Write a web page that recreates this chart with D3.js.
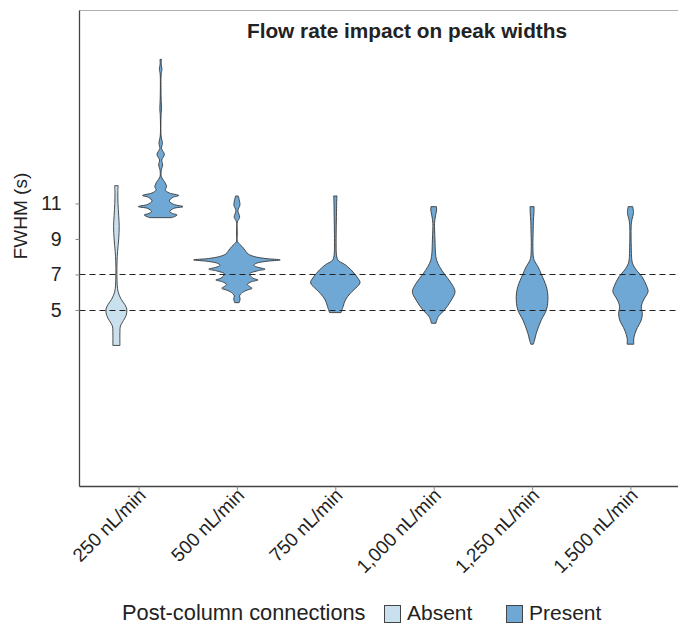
<!DOCTYPE html>
<html>
<head>
<meta charset="utf-8">
<script src="https://cdn.jsdelivr.net/npm/d3@7"></script>
<style>
  body { margin: 0; background: #fff; }
  text { font-family: "Liberation Sans", Arial, Helvetica, sans-serif; fill: #222; }
</style>
</head>
<body>
<svg id="chart" width="678" height="624"></svg>
<script>
// Flow rates on the x axis
const categories = ["250 nL/min", "500 nL/min", "750 nL/min", "1,000 nL/min", "1,250 nL/min", "1,500 nL/min"];
// Post-column connection groups
const groups = ["Absent", "Present"];
const groupColors = ["#c9e1ef", "#6fa8d4"];
// Y axis ticks and reference lines (FWHM, s)
const yTicks = [5, 7, 9, 11];
const referenceLines = [5, 7];

// Violin profiles: [FWHM (s), relative density]
const absent250 = [
  [12.0, .040], [11.6, .033], [11.0, .037], [10.3, .053], [9.7, .065], [9.0, .053],
  [8.3, .028], [7.7, .014], [7.0, .012], [6.4, .019], [6.0, .042], [5.6, .110],
  [5.3, .195], [5.05, .240], [4.7, .226], [4.4, .163], [4.1, .093], [3.8, .082], [3.0, .082]
];
const present250 = [
  [19.12, .016], [18.85, .012], [18.56, .030], [18.3, .012], [17.0, .010], [16.27, .019],
  [16.0, .010], [14.8, .010], [14.39, .040], [14.1, .019], [13.77, .086], [13.45, .026],
  [13.17, .047], [12.9, .016], [12.5, .016], [12.23, .086], [12.10, .116], [11.93, .135],
  [11.76, .105], [11.59, .200], [11.45, .419], [11.34, .280], [11.14, .200], [10.95, .300],
  [10.82, .516], [10.72, .300], [10.54, .210], [10.44, .270], [10.35, .380], [10.2, .256]
];
const present500 = [
  [11.42, .030], [10.92, .070], [10.6, .023], [10.22, .063], [9.97, .012], [8.85, .012],
  [8.72, .058], [8.58, .116], [8.44, .163], [8.30, .205], [8.15, .260], [8.01, .400],
  [7.90, .650], [7.82, 1.0], [7.73, .650], [7.62, .440], [7.51, .390], [7.40, .490],
  [7.30, .651], [7.20, .470], [7.03, .290], [6.79, .370], [6.69, .488], [6.59, .340],
  [6.44, .240], [6.31, .300], [6.22, .349], [6.12, .240], [5.99, .130], [5.79, .060],
  [5.62, .074], [5.41, .051]
];
const present750 = [
  [11.42, .040], [11.2, .033], [10.5, .028], [9.5, .021], [8.6, .019], [8.2, .023],
  [7.91, .042], [7.75, .081], [7.63, .174], [7.45, .279], [7.25, .367], [7.01, .453],
  [6.8, .519], [6.59, .570], [6.45, .558], [6.31, .505], [5.94, .349], [5.56, .233],
  [5.19, .181], [4.85, .133]
];
const present1000 = [
  [10.82, .063], [10.63, .067], [10.3, .042], [9.88, .019], [9.5, .021], [8.94, .030],
  [8.2, .042], [7.82, .065], [7.44, .135], [7.01, .251], [6.5, .407], [6.03, .493],
  [5.56, .407], [5.0, .251], [4.62, .105], [4.25, .053]
];
const present1250 = [
  [10.82, .047], [10.5, .044], [10.0, .030], [9.51, .026], [8.57, .019], [7.91, .035],
  [7.7, .070], [7.44, .135], [7.01, .214], [6.31, .330], [5.75, .367], [5.0, .330],
  [4.44, .214], [3.69, .098], [3.3, .058], [3.07, .030]
];
const present1500 = [
  [10.82, .053], [10.45, .070], [10.1, .035], [9.69, .016], [8.5, .019], [7.9, .028],
  [7.63, .047], [7.25, .135], [6.88, .263], [6.31, .379], [6.03, .407], [5.56, .302],
  [5.19, .251], [4.81, .274], [4.44, .251], [3.87, .135], [3.41, .077], [3.07, .077]
];

const violins = [
  { category: categories[0], group: "Absent",  profile: absent250 },
  { category: categories[0], group: "Present", profile: present250 },
  { category: categories[1], group: "Present", profile: present500 },
  { category: categories[2], group: "Present", profile: present750 },
  { category: categories[3], group: "Present", profile: present1000 },
  { category: categories[4], group: "Present", profile: present1250 },
  { category: categories[5], group: "Present", profile: present1500 }
];

const svg = d3.select("#chart");
const panel = { left: 79.5, right: 689.5, top: 10.5, bottom: 486.5 };

const x = d3.scalePoint().domain(categories).range([panel.left, panel.right]).padding(0.6);
const y = d3.scaleLinear().domain([-4.92, 21.9]).range([486, 10]);
const step = x.step();
const color = d3.scaleOrdinal().domain(groups).range(groupColors);
const halfWidth = d3.scaleLinear().domain([0, 1]).range([0, 0.44 * step]);

// groups present in each category, used for dodging
const groupsByCat = d3.group(violins, d => d.category);
function centerOf(v) {
  const members = groupsByCat.get(v.category);
  if (members.length === 1) return x(v.category);
  const i = members.indexOf(v);
  const slot = 0.9 * step / members.length;
  return x(v.category) - 0.45 * step + slot * (i + 0.5);
}

// Violins
const gV = svg.append("g");
violins.forEach(v => {
  const cx = centerOf(v);
  const area = d3.area()
    .curve(d3.curveCatmullRom.alpha(0.5))
    .y(d => y(d[0]))
    .x0(d => cx - halfWidth(d[1]))
    .x1(d => cx + halfWidth(d[1]));
  gV.append("path")
    .attr("d", area(v.profile.slice().sort((a, b) => a[0] - b[0])))
    .attr("fill", color(v.group))
    .attr("stroke", "#3a3a3a")
    .attr("stroke-width", 0.9)
    .attr("stroke-linejoin", "round");
});

// Reference lines
svg.append("g").selectAll("line").data(referenceLines).join("line")
  .attr("x1", panel.left).attr("x2", 678)
  .attr("y1", d => Math.round(y(d)) + 0.5).attr("y2", d => Math.round(y(d)) + 0.5)
  .attr("stroke", "#222").attr("stroke-width", 1.1).attr("stroke-dasharray", "6,4");

// Panel top border
svg.append("line").attr("x1", panel.left).attr("x2", 678).attr("y1", panel.top).attr("y2", panel.top)
  .attr("stroke", "#b0b0b0").attr("stroke-width", 1.2);

// Y axis
const yAxis = svg.append("g").attr("transform", `translate(${panel.left},0)`)
  .call(d3.axisLeft(y).tickValues(yTicks).tickSize(4).tickPadding(14).tickFormat(d3.format("d")));
yAxis.select(".domain").attr("d", `M0,${panel.top}V${panel.bottom}`).attr("stroke", "#444").attr("stroke-width", 1.3);
yAxis.selectAll(".tick line").attr("stroke", "#888");
yAxis.selectAll(".tick text").style("font-size", "19.5px").attr("fill", "#222");

// X axis
const xAxis = svg.append("g").attr("transform", `translate(0,${panel.bottom})`)
  .call(d3.axisBottom(x).tickSize(4).tickSizeOuter(0));
xAxis.select(".domain").attr("d", `M${panel.left},0H678`).attr("stroke", "#444").attr("stroke-width", 1.3);
xAxis.selectAll(".tick line").attr("stroke", "#888");
xAxis.selectAll(".tick text")
  .style("font-size", "19px")
  .attr("fill", "#222")
  .attr("text-anchor", "end")
  .attr("dy", 0)
  .attr("y", 0)
  .attr("transform", "translate(8,10) rotate(-45)");

// Axis title
svg.append("text")
  .attr("transform", "translate(27,216) rotate(-90)")
  .attr("text-anchor", "middle")
  .style("font-size", "19px")
  .text("FWHM (s)");

// Chart title
svg.append("text")
  .attr("x", 407).attr("y", 38)
  .attr("text-anchor", "middle")
  .style("font-size", "20.8px").style("font-weight", "bold")
  .text("Flow rate impact on peak widths");

// Legend
const legend = svg.append("g");
legend.append("text").attr("x", 122).attr("y", 620).style("font-size", "21.8px").text("Post-column connections");
const keyX = [384, 506];
groups.forEach((g, i) => {
  legend.append("rect")
    .attr("x", keyX[i] + 0.5).attr("y", 605.5).attr("width", 16).attr("height", 17)
    .attr("fill", color(g)).attr("stroke", "#444").attr("stroke-width", 1);
  legend.append("text").attr("x", keyX[i] + 23).attr("y", 620).style("font-size", "21px").text(g);
});
</script>
</body>
</html>
